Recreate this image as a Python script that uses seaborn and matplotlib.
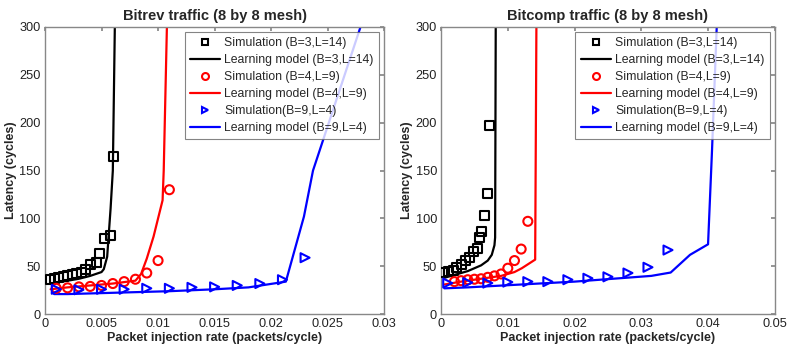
import matplotlib
matplotlib.use("Agg")
import matplotlib.pyplot as plt
from matplotlib.lines import Line2D
import seaborn as sns

# ---- Bitrev traffic (left panel) ----
bitrev_sim_b3_x = [0.00045, 0.0008, 0.0012, 0.0016, 0.002, 0.0024, 0.0028, 0.0032,
                   0.0036, 0.004, 0.0046, 0.0048, 0.0053, 0.0058, 0.0061]
bitrev_sim_b3_y = [36, 37, 38, 39, 40, 41, 42, 44, 47, 52, 54, 63, 79, 82, 165]
bitrev_mod_b3_x = [0.0005, 0.001, 0.002, 0.003, 0.004, 0.005, 0.0052, 0.0055,
                   0.0058, 0.006, 0.0062]
bitrev_mod_b3_y = [32, 33, 35, 37, 40, 44, 47, 60, 110, 150, 320]

bitrev_sim_b4_x = [0.001, 0.002, 0.003, 0.004, 0.005, 0.006, 0.007, 0.008, 0.009, 0.010, 0.011]
bitrev_sim_b4_y = [27, 27.5, 28.5, 29, 30, 32, 34, 36.5, 43, 56, 130]
bitrev_mod_b4_x = [0.0005, 0.002, 0.004, 0.006, 0.008, 0.0085, 0.009, 0.0096,
                   0.0104, 0.0105, 0.0108]
bitrev_mod_b4_y = [26, 28, 30, 32, 35, 42, 58, 81, 119, 150, 310]

bitrev_sim_b9_x = [0.001, 0.003, 0.005, 0.007, 0.009, 0.011, 0.013, 0.015,
                   0.017, 0.019, 0.021, 0.023]
bitrev_sim_b9_y = [26, 25.5, 26, 26, 27, 27, 28, 28.5, 30, 32, 36, 59]
bitrev_mod_b9_x = [0.0008, 0.002, 0.005, 0.011, 0.015, 0.018, 0.0213, 0.0229,
                   0.0237, 0.0279, 0.0284]
bitrev_mod_b9_y = [21, 21, 22, 24, 26, 28, 34, 102, 150, 300, 318]

# ---- Bitcomp traffic (right panel) ----
bitcomp_sim_b3_x = [0.00025, 0.0011, 0.0018, 0.0023, 0.003, 0.0037, 0.0042, 0.0048,
                    0.0054, 0.0057, 0.0061, 0.0065, 0.0069, 0.0073]
bitcomp_sim_b3_y = [43.5, 44.5, 46, 48.5, 51.5, 56, 59.5, 65, 69, 80.5, 86, 103, 126, 197]
bitcomp_mod_b3_x = [0.0005, 0.002, 0.004, 0.006, 0.007, 0.0076, 0.008, 0.0081, 0.0082]
bitcomp_mod_b3_y = [38, 41, 45, 51, 56, 62, 72, 80, 320]

bitcomp_sim_b4_x = [0.002, 0.003, 0.004, 0.005, 0.006, 0.007, 0.008, 0.009,
                    0.010, 0.011, 0.012, 0.013]
bitcomp_sim_b4_y = [34, 35, 36, 36.5, 37, 38.5, 40, 42, 48, 56, 68, 97]
bitcomp_mod_b4_x = [0.0005, 0.003, 0.006, 0.009, 0.011, 0.0121, 0.0141, 0.0143]
bitcomp_mod_b4_y = [31, 34, 37, 40, 44, 48, 57, 320]

bitcomp_sim_b9_x = [0.001, 0.004, 0.007, 0.010, 0.013, 0.016, 0.019, 0.022,
                    0.025, 0.028, 0.031, 0.034]
bitcomp_sim_b9_y = [32.5, 33, 32.5, 33.5, 34, 34, 36, 37.5, 39, 43, 49, 67]
bitcomp_mod_b9_x = [0.0005, 0.004, 0.008, 0.02, 0.0315, 0.0344, 0.0373, 0.040,
                    0.0406, 0.0413]
bitcomp_mod_b9_y = [27, 28, 29.5, 34, 40, 43.5, 62, 73, 172, 300]

labels = ["Simulation (B=3,L=14)", "Learning model (B=3,L=14)",
          "Simulation (B=4,L=9)", "Learning model (B=4,L=9)",
          "Simulation(B=9,L=4)", "Learning model (B=9,L=4)"]
colors = ["black", "red", "blue"]
markers = ["s", "o", ">"]

sns.set_theme(style="white")
plt.rcParams["font.family"] = ["Liberation Sans", "DejaVu Sans"]

fig = plt.figure(figsize=(7.89, 3.55), dpi=100)
ax1 = fig.add_axes([0.057, 0.115, 0.430, 0.809])
ax2 = fig.add_axes([0.559, 0.115, 0.423, 0.809])

panels = [
    (ax1, "Bitrev traffic (8 by 8 mesh)",
     [(bitrev_sim_b3_x, bitrev_sim_b3_y, bitrev_mod_b3_x, bitrev_mod_b3_y),
      (bitrev_sim_b4_x, bitrev_sim_b4_y, bitrev_mod_b4_x, bitrev_mod_b4_y),
      (bitrev_sim_b9_x, bitrev_sim_b9_y, bitrev_mod_b9_x, bitrev_mod_b9_y)],
     0.03, [0, 0.005, 0.01, 0.015, 0.02, 0.025, 0.03]),
    (ax2, "Bitcomp traffic (8 by 8 mesh)",
     [(bitcomp_sim_b3_x, bitcomp_sim_b3_y, bitcomp_mod_b3_x, bitcomp_mod_b3_y),
      (bitcomp_sim_b4_x, bitcomp_sim_b4_y, bitcomp_mod_b4_x, bitcomp_mod_b4_y),
      (bitcomp_sim_b9_x, bitcomp_sim_b9_y, bitcomp_mod_b9_x, bitcomp_mod_b9_y)],
     0.05, [0, 0.01, 0.02, 0.03, 0.04, 0.05]),
]

for ax, title, series, xmax, xticks in panels:
    for (sx, sy, mx, my), c, m in zip(series, colors, markers):
        sns.lineplot(x=mx, y=my, ax=ax, color=c, linewidth=1.6, estimator=None, sort=False)
        sns.scatterplot(x=sx, y=sy, ax=ax, marker=m, s=42, facecolor="none",
                        edgecolor=c, linewidth=1.5, zorder=3)
    ax.set_xlim(0, xmax)
    ax.set_ylim(0, 300)
    ax.set_xticks(xticks)
    ax.set_xticklabels([("%g" % t) for t in xticks])
    ax.set_yticks(range(0, 301, 50))
    ax.tick_params(direction="in", length=3, labelsize=9.2, colors="#222222",
                   top=True, right=True, pad=3)
    ax.tick_params(color="#888888")
    for sp in ax.spines.values():
        sp.set_color("#888888")
        sp.set_linewidth(1.0)
    ax.set_title(title, fontsize=10.5, fontweight="bold", pad=5)
    ax.set_xlabel("Packet injection rate (packets/cycle)", fontsize=9, fontweight="bold", labelpad=1)
    ax.set_ylabel("Latency (cycles)", fontsize=9, fontweight="bold", labelpad=2)

    handles = []
    for c, m in zip(colors, markers):
        handles.append(Line2D([], [], linestyle="none", marker=m, markersize=5,
                              markerfacecolor="none", markeredgecolor=c, markeredgewidth=1.5))
        handles.append(Line2D([], [], color=c, linewidth=1.6))
    leg = ax.legend(handles, labels, loc="upper right", fontsize=8.8, frameon=True,
                    fancybox=False, borderaxespad=0.4, handlelength=2.45,
                    labelspacing=0.4, borderpad=0.45, handletextpad=0.35)
    leg.get_frame().set_edgecolor("#666666")
    leg.get_frame().set_linewidth(0.8)

fig.savefig("out.png", dpi=100)
